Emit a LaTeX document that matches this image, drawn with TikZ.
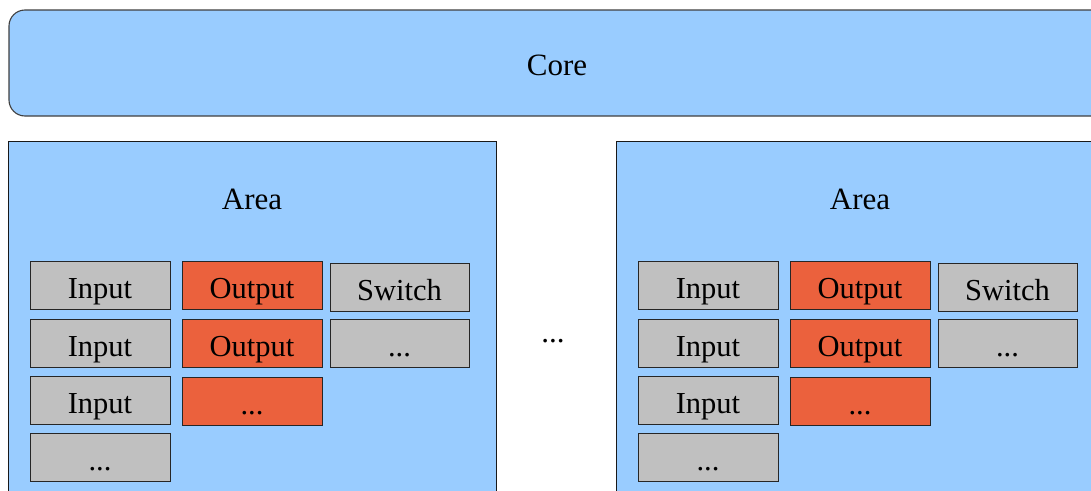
\documentclass[tikz,border=0pt]{standalone}
\usepackage{fontspec}
\setmainfont{Liberation Serif}
\definecolor{skyfill}{HTML}{99CCFF}
\definecolor{cellgray}{HTML}{C0C0C0}
\definecolor{cellred}{HTML}{EB613D}
\tikzset{
  x=1pt,y=-1pt,
  txt/.style={font=\fontsize{31}{32}\selectfont, inner sep=0pt},
  cell/.style={draw=black!85, line width=0.9pt, minimum width=140pt, minimum height=48pt,
    inner sep=0pt, text height=26pt, text depth=0pt, font=\fontsize{30.5}{31}\selectfont},
  incell/.style={cell, fill=cellgray},
  outcell/.style={cell, fill=cellred},
  areabox/.style={draw=black!90, line width=0.9pt, fill=skyfill},
}
\begin{document}
\begin{tikzpicture}
\useasboundingbox (0,0) rectangle (1091,490);
\clip (0,0) rectangle (1091,490);
% core
\draw[draw=black!75, line width=1.1pt, fill=skyfill, rounded corners=16pt] (9,10) rectangle (1110,116);
\node[txt, anchor=base] (core) at (557,75.5) {Core};
% areas
\foreach \s/\n in {0/L,608/R}{
  \draw[areabox] (8+\s,141) rectangle (496+\s,520);
  \node[txt, anchor=base] (area\n) at (252+\s,209) {Area};
  \node[incell] (in1\n) at (100+\s,285) {Input};
  \node[incell] (in2\n) at (100+\s,343) {Input};
  \node[incell] (in3\n) at (100+\s,400) {Input};
  \node[incell] (in4\n) at (100+\s,457) {...};
  \node[outcell] (out1\n) at (252+\s,285) {Output};
  \node[outcell] (out2\n) at (252+\s,343) {Output};
  \node[outcell] (out3\n) at (252+\s,401) {...};
  \node[incell, minimum width=139pt] (sw1\n) at (399.5+\s,287) {Switch};
  \node[incell, minimum width=139pt] (sw2\n) at (399.5+\s,343) {...};
}
\node[txt, anchor=base] (mid) at (553,342) {...};
\end{tikzpicture}
\end{document}
